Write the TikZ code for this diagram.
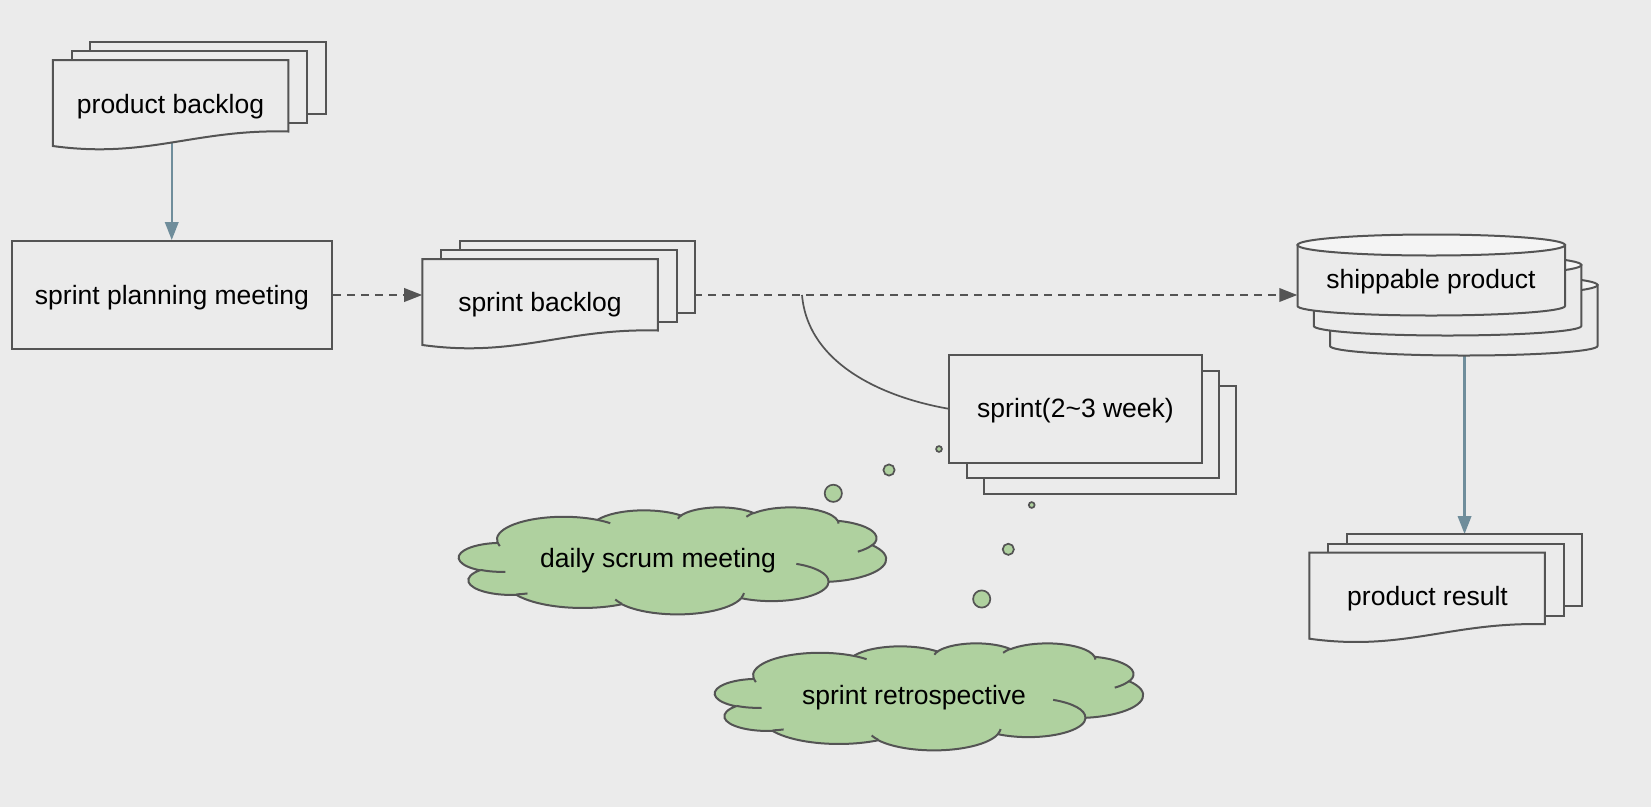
\documentclass[tikz,border=0pt]{standalone}
\usepackage{fontspec}
\setmainfont{Liberation Sans}
\usetikzlibrary{arrows.meta}
\definecolor{bgc}{HTML}{EBEBEB}
\definecolor{ink}{HTML}{545454}
\definecolor{cloudg}{HTML}{AFD19F}
\definecolor{cyltop}{HTML}{F4F4F4}
\definecolor{bluegray}{HTML}{6F8D9B}
\definecolor{dashg}{HTML}{545454}
\pgfdeclarelayer{bglayer}
\pgfdeclarelayer{connlayer}
\pgfsetlayers{bglayer,connlayer,main}

% arc with OOXML-style (geometric) angles
\newcommand\ooarc[4]{%
  \pgfextra{%
    \pgfmathparse{atan2((#1)*sin(#3),(#2)*cos(#3))}\xdef\ooA{\pgfmathresult}%
    \pgfmathparse{atan2((#1)*sin((#3)+(#4)),(#2)*cos((#3)+(#4)))}\xdef\ooB{\pgfmathresult}%
    \pgfmathparse{\ooB-\ooA}\xdef\ooD{\pgfmathresult}%
    \pgfmathparse{(#4>0) ? ((\ooD<0) ? \ooD+360 : \ooD) : ((\ooD>0) ? \ooD-360 : \ooD)}\xdef\ooD{\pgfmathresult}%
  }%
  arc[start angle=\ooA, delta angle=\ooD, x radius=#1, y radius=#2]%
}

\newcommand\oocloud[4]{%
  \begin{scope}[shift={(#1,#2)},x=#3pt,y=#4pt]
    \filldraw[cloudst] (390,1437)
      \ooarc{675.3}{919.0}{-190.4875}{123.7805}
      \ooarc{533.3}{726.7}{-144.1024}{89.9452}
      \ooarc{436.5}{594.5}{-145.8079}{99.7230}
      \ooarc{485.7}{659.5}{-130.9861}{117.2417}
      \ooarc{533.3}{727.3}{-78.7089}{109.0269}
      \ooarc{677.5}{922.0}{-46.2673}{130.2690}
      \ooarc{578.5}{786.7}{0.6250}{114.0333}
      \ooarc{675.2}{921.5}{22.4516}{115.1726}
      \ooarc{772.0}{1054.3}{66.2426}{75.7110}
      \ooarc{436.0}{591.8}{-274.9421}{146.7356}
      \ooarc{434.5}{594.5}{-246.8285}{152.5189} -- cycle;
    \draw[cloudln]
      (469.3,2617.7) \ooarc{434.5}{594.5}{86.7420}{26.4295}
      (692.8,3489.9) \ooarc{436.0}{591.8}{73.6105}{11.4475}
      (1647.8,3909.0) \ooarc{675.2}{921.5}{137.6242}{14.0811}
      (2882.7,3475.1) \ooarc{675.2}{921.5}{6.4533}{15.9984}
      (3412.9,2295.4) \ooarc{578.5}{786.7}{-70.2924}{70.9174}
      (4179.8,1535.4) \ooarc{533.3}{727.3}{30.3180}{27.7515}
      (3832.4,542.6) \ooarc{485.7}{659.5}{-13.7443}{14.8589}
      (2907.8,395.2) \ooarc{485.7}{659.5}{-149.1815}{18.1954}
      (2214.1,472.0) \ooarc{436.5}{594.5}{-163.4943}{17.6864}
      (1400.0,519.2) \ooarc{675.3}{919.0}{-66.7070}{12.3194}
      (412.7,1578.9) \ooarc{675.3}{919.0}{157.6544}{11.8582};
  \end{scope}%
}

% stacked document: #1 x, #2 top of front page, #3 name
\newcommand\docstack[3]{%
  \filldraw[shp] (#1+37.5,#2-18.5) rectangle ++(235.5,72);
  \filldraw[shp] (#1+19,#2-9) rectangle ++(235.5,72);
  \filldraw[shp] (#1,#2) -- (#1+235.5,#2) -- (#1+235.5,#2+71.5)
     .. controls (#1+141.3,#2+69) and (#1+94.2,#2+99) .. (#1,#2+86) -- cycle;
  \node[ghost, minimum width=235.5pt, minimum height=86pt] (#3) at (#1+117.75,#2+43) {};
  \node[ghost, minimum width=235.5pt, minimum height=72pt] (#3b) at (#1+155.25,#2+17.5) {};
}

% one cylinder: #1 left x, #2 centre y of top ellipse
\newcommand\cylone[2]{%
  \filldraw[shp] (#1,#2) -- (#1,#2+61)
     arc[start angle=180,end angle=360,x radius=133.75pt,y radius=9.5pt]
     -- (#1+267.5,#2) -- cycle;
  \filldraw[shp,fill=cyltop] (#1+133.75,#2) ellipse[x radius=133.75pt,y radius=10.5pt];
}

\begin{document}
\begin{tikzpicture}[x=1pt,y=-1pt,
  shp/.style={draw=ink,fill=bgc,line width=2pt},
  ghost/.style={draw=none,fill=none,inner sep=0pt,rectangle},
  txt/.style={inner sep=0pt,text=black,font=\fontsize{26.5pt}{32pt}\selectfont},
  cloudst/.style={draw=ink,fill=cloudg,line width=2pt},
  cloudln/.style={draw=ink,line width=2pt},
  bub/.style={draw=ink,fill=cloudg,line width=1.7pt},
  bluearrow/.style={draw=bluegray,line width=2.2pt,-{Triangle[length=18pt,width=13.5pt]}},
  dasharrow/.style={draw=dashg,line width=2pt,dash pattern=on 8pt off 6pt,-{Triangle[length=18pt,width=13.5pt]}},
  curvest/.style={draw=ink,line width=1.7pt}]

\useasboundingbox (0,0) rectangle (1651,807);
\begin{pgfonlayer}{bglayer}
  \fill[bgc] (0,0) rectangle (1651,807);
\end{pgfonlayer}

% product backlog
\docstack{52.8}{60}{pbdoc}
\node[txt] (pbtxt) at (170.5,106.5) {product backlog};

% sprint planning meeting
\node[shp, rectangle, inner sep=0pt, minimum width=320.5pt, minimum height=108pt] (spm) at (171.75,295) {};
\node[txt] (spmtxt) at (172,297.5) {sprint planning meeting};

% sprint backlog
\docstack{422.4}{259}{sbdoc}
\node[txt] (sbtxt) at (540,305) {sprint backlog};

% sprint stack
\filldraw[shp] (984.2,386.2) rectangle ++(252.2,107.7);
\filldraw[shp] (966.8,370.6) rectangle ++(252.2,107.7);
\filldraw[shp] (949.4,355) rectangle ++(252.2,107.7);
\node[ghost, minimum width=252.2pt, minimum height=107.7pt] (spr1) at (1075.5,408.85) {};
\node[txt] (sprtxt) at (1075.5,411) {sprint(2\textasciitilde{}3 week)};

% shippable product
\cylone{1330}{285}
\cylone{1313.8}{265}
\cylone{1297.5}{245}
\node[ghost, minimum width=267.5pt, minimum height=61pt] (cyl1) at (1431.25,275.5) {};
\node[ghost, minimum width=267.5pt, minimum height=61pt] (cyl3) at (1463.75,315.5) {};
\node[txt] (shiptxt) at (1431,282) {shippable product};

% product result
\docstack{1309.3}{552.7}{prdoc}
\node[txt] (prtxt) at (1427.5,598.5) {product result};

% thought bubbles
\filldraw[bub] (939,449) circle[radius=2.9pt];
\filldraw[bub] (889,470) circle[radius=5.6pt];
\filldraw[bub] (833.3,493.3) circle[radius=8.6pt];
\filldraw[bub] (1031.7,505) circle[radius=2.9pt];
\filldraw[bub] (1008.3,549.3) circle[radius=5.6pt];
\filldraw[bub] (981.7,599) circle[radius=8.6pt];

% clouds
\oocloud{459}{507}{0.098843}{-0.024769}
\node[txt] (dailytxt) at (658,561) {daily scrum meeting};
\oocloud{715}{643}{0.099074}{-0.024769}
\node[txt] (retrotxt) at (914,697.5) {sprint retrospective};

% connectors
\coordinate (tap) at (802,295);
\begin{pgfonlayer}{connlayer}
  \draw[bluearrow] (pbdoc.center -| spm.north) -- (spm.north);
  \draw[dasharrow] (spm.east) -- (sbdoc.west |- spm.east);
  \draw[dasharrow] (sbdoc.center |- spm.east) -- (cyl1.west |- spm.east);
  \draw[curvest] (tap) .. controls +(6,70) and +(-64,-11) .. (spr1.west);
  \draw[bluearrow] (cyl3.center -| prdocb.north) -- (prdocb.north);
\end{pgfonlayer}
\end{tikzpicture}
\end{document}
